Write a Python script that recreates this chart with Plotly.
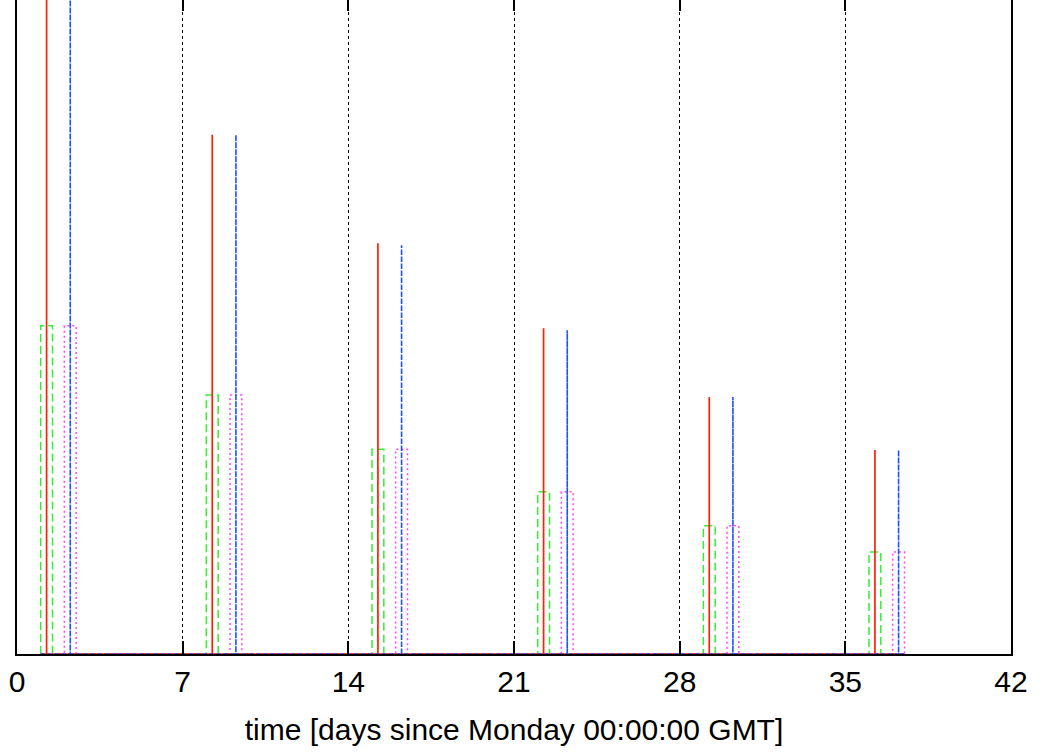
import plotly.graph_objects as go

# Weekly pattern: each week starts on a Monday (days since Monday 00:00:00 GMT)
week_start = [0, 7, 14, 21, 28, 35]

# Impulse series (peak values, relative units)
red_peak = [1.000, 0.794, 0.628, 0.498, 0.393, 0.312]
blue_peak = [1.000, 0.794, 0.625, 0.495, 0.393, 0.312]

# Box series (plateau values, relative units)
green_level = [0.502, 0.396, 0.313, 0.248, 0.196, 0.156]
magenta_level = [0.502, 0.396, 0.313, 0.248, 0.196, 0.156]

# Offsets within each week and box width (days)
offset_a = 1.25
offset_b = 2.25
box_width = 0.5

# Full time span of the sampled series (days)
t_span = [1.0, 37.5]

x_ticks = [0, 7, 14, 21, 28, 35, 42]


def impulse_path(starts, offset, peaks):
    xs, ys = [t_span[0]], [0]
    for s, p in zip(starts, peaks):
        t = s + offset
        xs += [t, t, t]
        ys += [0, p, 0]
    xs.append(t_span[1])
    ys.append(0)
    return xs, ys


def box_path(starts, offset, levels):
    xs, ys = [t_span[0]], [0]
    for s, h in zip(starts, levels):
        a = s + offset - box_width / 2
        b = s + offset + box_width / 2
        xs += [a, a, b, b]
        ys += [0, h, h, 0]
    xs.append(t_span[1])
    ys.append(0)
    return xs, ys


fig = go.Figure()

gx, gy = box_path(week_start, offset_a, green_level)
mx, my = box_path(week_start, offset_b, magenta_level)
rx, ry = impulse_path(week_start, offset_a, red_peak)
bx, by = impulse_path(week_start, offset_b, blue_peak)

fig.add_trace(go.Scatter(x=gx, y=gy, mode="lines",
                         line=dict(color="#33ee33", width=1.5, dash="8px,4px")))
fig.add_trace(go.Scatter(x=mx, y=my, mode="lines",
                         line=dict(color="#ff44ff", width=1.5, dash="2px,3px")))
fig.add_trace(go.Scatter(x=rx, y=ry, mode="lines",
                         line=dict(color="#ff2200", width=1.7)))
fig.add_trace(go.Scatter(x=bx, y=by, mode="lines",
                         line=dict(color="#1f4fff", width=1.6, dash="4px,3px")))

# invisible trace so the top tick axis is rendered
fig.add_trace(go.Scatter(x=t_span, y=[0, 0], xaxis="x2", mode="lines",
                         line=dict(width=0), opacity=0, hoverinfo="skip"))

fig.update_layout(
    width=1043, height=753,
    margin=dict(l=17, r=32, t=0, b=99),
    plot_bgcolor="white", paper_bgcolor="white",
    showlegend=False,
    font=dict(family="Liberation Sans, Arial, Helvetica, sans-serif", color="black"),
    xaxis=dict(
        range=[0, 42],
        tickvals=x_ticks,
        ticktext=[str(v) for v in x_ticks],
        tickfont=dict(size=30),
        ticks="inside", ticklen=13, tickwidth=2, tickcolor="black",
        showline=True, linecolor="black", linewidth=2, mirror=False,
        showgrid=True, gridcolor="black", gridwidth=1, griddash="dot",
        zeroline=False,
        title=dict(text="time [days since Monday 00:00:00 GMT]",
                   font=dict(size=30), standoff=22),
    ),
    # top tick marks only (no top frame line)
    xaxis2=dict(
        overlaying="x", side="top", range=[0, 42],
        tickvals=x_ticks, showticklabels=False,
        ticks="inside", ticklen=11, tickwidth=2, tickcolor="black",
        showline=False, showgrid=False, zeroline=False,
    ),
    yaxis=dict(
        range=[0, 1.0],
        showticklabels=False, ticks="",
        showline=True, linecolor="black", linewidth=2, mirror=True,
        showgrid=False, zeroline=False,
    ),
)

fig.write_html("out.html")
